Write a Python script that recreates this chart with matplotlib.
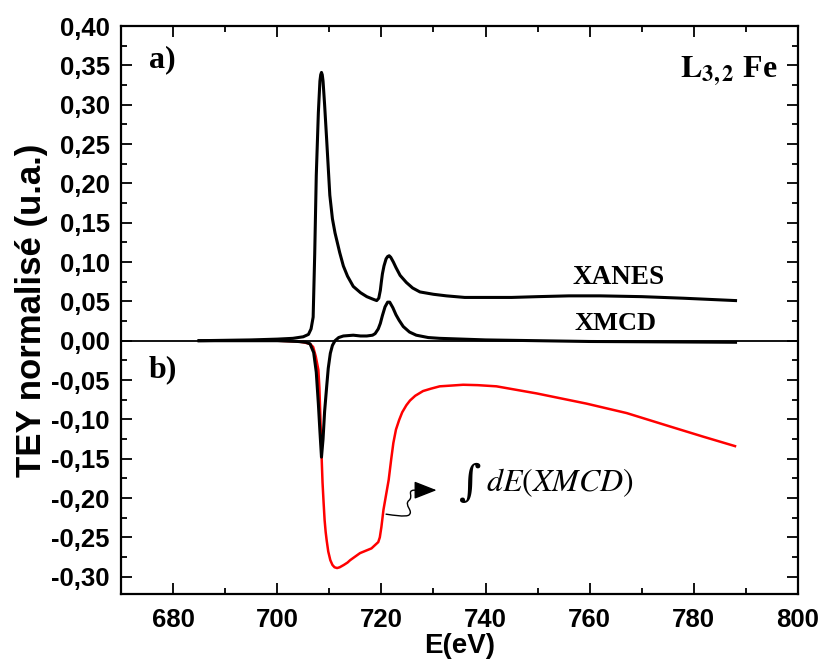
import matplotlib
matplotlib.use("Agg")
import matplotlib.pyplot as plt
from matplotlib.ticker import MultipleLocator, FuncFormatter
from matplotlib.patches import FancyArrowPatch
from matplotlib.path import Path

plt.rcParams['mathtext.fontset'] = 'stix'

# XANES L3,2 Fe (black, upper)
e_xanes = [685, 695, 700, 703, 705, 706.0, 706.5, 706.9, 707.2, 707.5, 707.9, 708.2, 708.35,
           708.5, 708.65, 708.8, 709.1, 709.5, 710.1, 710.6, 711.1, 712.0, 712.7, 713.5, 714.6,
           716, 717.2, 718.3, 719.1, 719.5, 719.8, 720.0, 720.2, 720.5, 720.9, 721.2, 721.5,
           721.8, 722.3, 722.8, 723.6, 724.8, 726, 727.4, 730, 732.5, 736, 740, 745, 750, 756,
           762, 770, 778, 788]
xanes = [0, 0.001, 0.002, 0.003, 0.005, 0.008, 0.015, 0.03, 0.11, 0.21, 0.29, 0.33, 0.338,
         0.341, 0.338, 0.33, 0.30, 0.255, 0.185, 0.155, 0.137, 0.112, 0.095, 0.082, 0.069,
         0.061, 0.056, 0.053, 0.051, 0.054, 0.064, 0.075, 0.085, 0.095, 0.104, 0.107, 0.108,
         0.106, 0.100, 0.093, 0.083, 0.074, 0.067, 0.062, 0.059, 0.057, 0.055, 0.055, 0.055,
         0.056, 0.057, 0.057, 0.056, 0.054, 0.051]

# XMCD (black, lower)
e_xmcd = [685, 700, 704, 705.5, 706.3, 707.0, 707.5, 707.9, 708.2, 708.5, 708.8, 709.1, 709.5,
          709.8, 710.2, 710.6, 711.1, 711.8, 712.7, 714.6, 716, 717.2, 718.3, 718.8, 719.4,
          719.8, 720.2, 720.7, 721.2, 721.6, 722.2, 722.8, 723.4, 724.2, 725.4, 726.7, 729,
          731.2, 740, 760, 788]
xmcd = [0, 0, -0.001, -0.002, -0.004, -0.015, -0.04, -0.08, -0.115, -0.148, -0.125, -0.09,
        -0.058, -0.035, -0.016, -0.006, 0.0, 0.004, 0.006, 0.007, 0.006, 0.006, 0.007, 0.009,
        0.015, 0.022, 0.032, 0.043, 0.049, 0.049, 0.042, 0.033, 0.026, 0.018, 0.011, 0.007,
        0.004, 0.003, 0.001, -0.001, -0.002]

# integrated XMCD (red)
e_int = [690, 700, 704, 705, 706.3, 706.9, 707.4, 707.9, 708.1, 708.3, 708.5, 708.7, 708.9,
         709.1, 709.3, 709.5, 709.8, 710.2, 710.6, 711.0, 711.5, 712.0, 712.8, 713.5, 714,
         715.9, 718.1, 719.4, 719.7, 720.0, 720.4, 720.9, 721.4, 721.9, 722.3, 722.8, 723.4,
         724.0, 724.8, 725.5, 726.5, 728, 729.5, 731.2, 733.5, 735.7, 738.5, 742.1, 749.8,
         759.4, 767.1, 775.4, 781.8, 787.9]
xmcd_int = [0, 0, -0.001, -0.002, -0.004, -0.008, -0.02, -0.037, -0.06, -0.10, -0.143, -0.18,
            -0.205, -0.228, -0.243, -0.254, -0.268, -0.279, -0.285, -0.288, -0.289, -0.288,
            -0.285, -0.282, -0.279, -0.270, -0.264, -0.256, -0.25, -0.237, -0.215, -0.196,
            -0.177, -0.150, -0.130, -0.113, -0.101, -0.091, -0.082, -0.076, -0.070, -0.064,
            -0.061, -0.058, -0.057, -0.056, -0.0565, -0.058, -0.067, -0.080, -0.092, -0.109,
            -0.122, -0.134]

fig = plt.figure(figsize=(8.19, 6.64), dpi=100)
ax = fig.add_axes([0.1477, 0.1054, 0.8267, 0.8554])

ax.axhline(0, color='black', lw=1.3, zorder=1)
ax.plot(e_xanes, xanes, color='black', lw=2.2, zorder=3)
ax.plot(e_xmcd, xmcd, color='black', lw=2.2, zorder=3)
ax.plot(e_int, xmcd_int, color='red', lw=1.8, zorder=2)

ax.set_xlim(670, 800)
ax.set_ylim(-0.322, 0.40)

ax.xaxis.set_major_locator(MultipleLocator(20))
ax.xaxis.set_minor_locator(MultipleLocator(10))
ax.yaxis.set_major_locator(MultipleLocator(0.05))
ax.yaxis.set_minor_locator(MultipleLocator(0.025))
ax.yaxis.set_major_formatter(FuncFormatter(lambda v, p: ('%.2f' % v).replace('.', ',')))

ax.tick_params(which='both', direction='in', top=True, right=True, width=1.3)
ax.tick_params(which='major', length=8, pad=8)
ax.tick_params(which='minor', length=4.5)
ax.tick_params(axis='x', which='major', length=8, pad=10)
for lab in ax.get_xticklabels() + ax.get_yticklabels():
    lab.set_fontfamily('Liberation Sans')
    lab.set_fontweight('bold')
    lab.set_fontsize(18.5)
for s in ax.spines.values():
    s.set_linewidth(1.6)

ax.set_xlabel('E(eV)', fontsize=20, fontweight='bold', family='Liberation Sans')
ax.xaxis.set_label_coords(0.5, -0.068)
ax.set_ylabel('TEY normalisé (u.a.)', fontsize=25, fontweight='bold',
              family='Liberation Sans', labelpad=2)

serif = dict(family='Liberation Serif', fontweight='bold')
ax.text(675.4, 0.357, 'a)', fontsize=23, va='center', ha='left', **serif)
ax.text(675.4, -0.037, 'b)', fontsize=23, va='center', ha='left', **serif)
ax.text(796.0, 0.342, r'$\mathbf{L_{3,2}}$ Fe', fontsize=23, va='center', ha='right', **serif)
ax.text(765.6, 0.080, 'XANES', fontsize=19.5, va='center', ha='center', **serif)
ax.text(765.0, 0.0225, 'XMCD', fontsize=19, va='center', ha='center', **serif)
ax.text(734.8, -0.181, '∫', fontsize=31, va='center', ha='left', family='DejaVu Serif')
ax.text(740.0, -0.181, r'$dE(XMCD)$', fontsize=23, va='center', ha='left')

# wavy arrow pointing from the integrated curve to its label
verts = [(720.9, -0.2205),
         (722.5, -0.222), (724.3, -0.224), (725.2, -0.222),
         (726.4, -0.217), (724.2, -0.209), (725.3, -0.203),
         (726.2, -0.198), (724.9, -0.191), (726.2, -0.190),
         (730.6, -0.190)]
codes = [Path.MOVETO, Path.CURVE4, Path.CURVE4, Path.CURVE4,
         Path.CURVE4, Path.CURVE4, Path.CURVE4,
         Path.CURVE4, Path.CURVE4, Path.CURVE4, Path.LINETO]
arrow = FancyArrowPatch(path=Path(verts, codes), arrowstyle='-|>,head_length=1.4,head_width=0.55',
                        mutation_scale=10, color='black', lw=1.0,
                        transform=ax.transData, zorder=4)
ax.add_patch(arrow)

fig.savefig('out.png', dpi=100)
